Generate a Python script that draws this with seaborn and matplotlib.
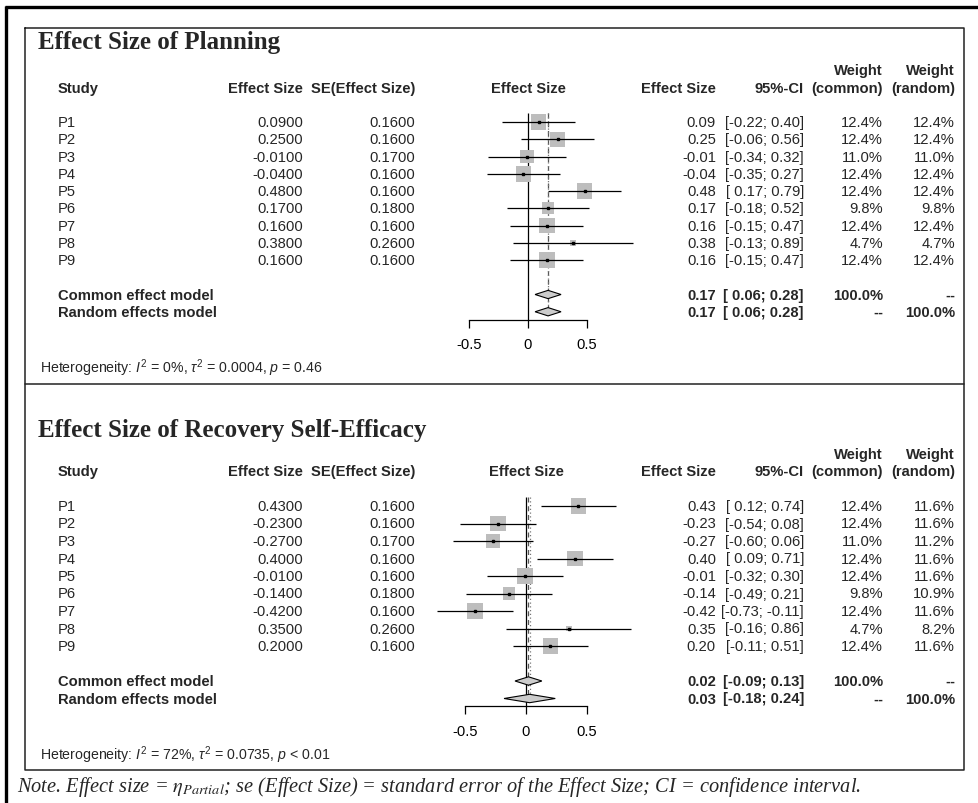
import matplotlib
matplotlib.use("Agg")
import matplotlib.pyplot as plt
import seaborn as sns
import pandas as pd
from matplotlib.patches import Polygon

# ---------------- data ----------------
studies = ["P1", "P2", "P3", "P4", "P5", "P6", "P7", "P8", "P9"]

plan_es = [0.09, 0.25, -0.01, -0.04, 0.48, 0.17, 0.16, 0.38, 0.16]
plan_se = [0.16, 0.16, 0.17, 0.16, 0.16, 0.18, 0.16, 0.26, 0.16]
plan_lo = [-0.22, -0.06, -0.34, -0.35, 0.17, -0.18, -0.15, -0.13, -0.15]
plan_hi = [0.40, 0.56, 0.32, 0.27, 0.79, 0.52, 0.47, 0.89, 0.47]
plan_w_common = [12.4, 12.4, 11.0, 12.4, 12.4, 9.8, 12.4, 4.7, 12.4]
plan_w_random = [12.4, 12.4, 11.0, 12.4, 12.4, 9.8, 12.4, 4.7, 12.4]
plan_common = [0.17, 0.06, 0.28]
plan_random = [0.17, 0.06, 0.28]
plan_het = r"Heterogeneity: $I^2$ = 0%, $\tau^2$ = 0.0004, $p$ = 0.46"

rse_es = [0.43, -0.23, -0.27, 0.40, -0.01, -0.14, -0.42, 0.35, 0.20]
rse_se = [0.16, 0.16, 0.17, 0.16, 0.16, 0.18, 0.16, 0.26, 0.16]
rse_lo = [0.12, -0.54, -0.60, 0.09, -0.32, -0.49, -0.73, -0.16, -0.11]
rse_hi = [0.74, 0.08, 0.06, 0.71, 0.30, 0.21, -0.11, 0.86, 0.51]
rse_w_common = [12.4, 12.4, 11.0, 12.4, 12.4, 9.8, 12.4, 4.7, 12.4]
rse_w_random = [11.6, 11.6, 11.2, 11.6, 11.6, 10.9, 11.6, 8.2, 11.6]
rse_common = [0.02, -0.09, 0.13]
rse_random = [0.03, -0.18, 0.24]
rse_het = r"Heterogeneity: $I^2$ = 72%, $\tau^2$ = 0.0735, $p$ < 0.01"

axis_ticks = [-0.5, 0, 0.5]
axis_ticklabels = ["-0.5", "0", "0.5"]

note_text = (r"Note. Effect size = $\eta_{Partial}$; se (Effect Size) = standard error "
             r"of the Effect Size; CI = confidence interval.")

# ---------------- style ----------------
W, H = 979, 804
sns.set_style("white")
plt.rcParams["font.family"] = ["Liberation Sans", "DejaVu Sans"]
plt.rcParams["axes.unicode_minus"] = False
plt.rcParams["mathtext.fontset"] = "custom"
plt.rcParams["mathtext.rm"] = "Liberation Sans"
plt.rcParams["mathtext.it"] = "Liberation Sans:italic"
plt.rcParams["mathtext.bf"] = "Liberation Sans:bold"

FS = 10.6
SQ_GRAY = "#bdbdbd"
DIA_GRAY = "#cccccc"

fig = plt.figure(figsize=(W / 100, H / 100), dpi=100)
fig.patch.set_facecolor("white")


def fy(px):
    return 1 - px / H


# frame lines in pixel coordinates
bg = fig.add_axes([0, 0, 1, 1])
bg.set_xlim(0, W)
bg.set_ylim(H, 0)
bg.axis("off")
bg.plot([5, W], [8, 8], color="black", lw=2.4, solid_capstyle="butt")
bg.plot([6.5, 6.5], [7, H], color="black", lw=2.4, solid_capstyle="butt")
bg.plot([25, 964, 964, 25, 25], [29, 29, 771, 771, 29], color="#222222", lw=1.1)
bg.plot([25, 964], [385, 385], color="#222222", lw=1.1)
bg.text(17, 787, note_text, fontsize=14.7, fontstyle="italic",
        family=["Liberation Serif", "DejaVu Serif"], math_fontfamily="stix",
        va="center", ha="left")


def draw_panel(top_px, bot_px, p1_px, step, zero_px, unit_px, title, title_px,
               es, se, lo, hi, wc, wr, common, random, het, het_px):
    n = len(es)
    row_top = (top_px - p1_px) / step
    row_bot = (bot_px - p1_px) / step
    rect_y = fy(bot_px)
    rect_h = (bot_px - top_px) / H

    tab = fig.add_axes([0, rect_y, 1, rect_h])
    tab.set_xlim(0, W)
    tab.set_ylim(row_bot, row_top)
    tab.axis("off")
    tab.patch.set_alpha(0)

    def row_of(px):
        return (px - p1_px) / step

    # title
    tab.text(38, row_of(title_px), title, fontsize=18, fontweight="bold",
             family=["Liberation Serif", "DejaVu Serif"], va="center", ha="left")

    hb = dict(fontsize=FS, fontweight="bold", va="center")
    tab.text(883, -3, "Weight", ha="right", **hb)
    tab.text(955, -3, "Weight", ha="right", **hb)
    tab.text(58, -2, "Study", ha="left", **hb)
    tab.text(303, -2, "Effect Size", ha="right", **hb)
    tab.text(415, -2, "SE(Effect Size)", ha="right", **hb)
    tab.text(zero_px, -2, "Effect Size", ha="center", **hb)
    tab.text(716, -2, "Effect Size", ha="right", **hb)
    tab.text(804, -2, "95%-CI", ha="right", **hb)
    tab.text(883, -2, "(common)", ha="right", **hb)
    tab.text(955, -2, "(random)", ha="right", **hb)

    rb = dict(fontsize=FS, va="center")
    for i in range(n):
        tab.text(58, i, studies[i], ha="left", **rb)
        tab.text(303, i, f"{es[i]:.4f}", ha="right", **rb)
        tab.text(415, i, f"{se[i]:.4f}", ha="right", **rb)
        tab.text(716, i, f"{es[i]:.2f}", ha="right", **rb)
        lo_s = f"{lo[i]:.2f}" if lo[i] < 0 else f" {lo[i]:.2f}"
        tab.text(804, i, f"[{lo_s}; {hi[i]:.2f}]", ha="right", **rb)
        tab.text(883, i, f"{wc[i]:.1f}%", ha="right", **rb)
        tab.text(955, i, f"{wr[i]:.1f}%", ha="right", **rb)

    summaries = [("Common effect model", common, "100.0%", "--"),
                 ("Random effects model", random, "--", "100.0%")]
    for k, (label, vals, w1, w2) in enumerate(summaries):
        r = n + 1 + k
        tab.text(58, r, label, ha="left", **hb)
        tab.text(716, r, f"{vals[0]:.2f}", ha="right", **hb)
        lo_s = f"{vals[1]:.2f}" if vals[1] < 0 else f" {vals[1]:.2f}"
        tab.text(804, r, f"[{lo_s}; {vals[2]:.2f}]", ha="right", **hb)
        tab.text(883, r, w1, ha="right", **hb)
        tab.text(955, r, w2, ha="right", **hb)

    tab.text(40, row_of(het_px), het, fontsize=10.2, va="center", ha="left",
             math_fontfamily="custom")

    # forest plot
    fl, fr = 400, 680
    fx = fig.add_axes([fl / W, rect_y, (fr - fl) / W, rect_h])
    fx.set_xlim((fl - zero_px) / unit_px, (fr - zero_px) / unit_px)
    fx.set_ylim(row_bot, row_top)
    fx.patch.set_alpha(0)

    rows = list(range(n))
    axis_row = n + 2.45
    # reference line at zero and pooled-estimate lines
    fx.vlines(0, -0.5, axis_row, color="black", lw=0.9, zorder=1)
    fx.vlines(common[0], -0.5, n + 2.2, color="#555555", lw=0.9,
              linestyles=(0, (4, 3)), zorder=1)
    fx.vlines(random[0], -0.5, n + 2.2, color="#777777", lw=0.9,
              linestyles=(0, (1, 2)), zorder=1)

    df = pd.DataFrame({"est": es, "row": rows, "w": wc})
    side_px = {w: 15.5 * w / 12.4 for w in set(wc)}
    area = {w: (v * 0.72) ** 2 for w, v in side_px.items()}
    sns.scatterplot(data=df, x="est", y="row", size="w", sizes=area,
                    marker="s", color=SQ_GRAY, edgecolor="none", linewidth=0,
                    legend=False, ax=fx, zorder=2)
    fx.hlines(rows, lo, hi, color="black", lw=0.9, zorder=3)
    fx.plot(es, rows, "s", color="black", ms=1.8, zorder=4)

    for k, vals in enumerate([common, random]):
        r = n + 1 + k
        h = 0.24
        dia = Polygon([(vals[1], r), (vals[0], r - h), (vals[2], r),
                       (vals[0], r + h)], closed=True, facecolor=DIA_GRAY,
                      edgecolor="black", lw=0.8, zorder=3)
        fx.add_patch(dia)

    for s in ["top", "right", "left"]:
        fx.spines[s].set_visible(False)
    fx.spines["bottom"].set_position(("data", axis_row))
    fx.spines["bottom"].set_bounds(axis_ticks[0], axis_ticks[-1])
    fx.spines["bottom"].set_linewidth(0.9)
    fx.spines["bottom"].set_color("black")
    fx.set_xticks(axis_ticks)
    fx.set_xticklabels(axis_ticklabels)
    fx.tick_params(axis="x", direction="out", length=5.5, width=0.9,
                   labelsize=FS, pad=7, colors="black", bottom=True)
    fx.set_yticks([])
    fx.set_xlabel("")
    fx.set_ylabel("")
    fx.set_xlim((fl - zero_px) / unit_px, (fr - zero_px) / unit_px)
    fx.set_ylim(row_bot, row_top)


draw_panel(29, 385, 123, 17.25, 528, 118, "Effect Size of Planning", 42,
           plan_es, plan_se, plan_lo, plan_hi, plan_w_common, plan_w_random,
           plan_common, plan_random, plan_het, 368)
draw_panel(385, 771, 507, 17.5, 526, 122, "Effect Size of Recovery Self-Efficacy", 430,
           rse_es, rse_se, rse_lo, rse_hi, rse_w_common, rse_w_random,
           rse_common, rse_random, rse_het, 755)

fig.savefig("out.png", dpi=100, facecolor="white")
